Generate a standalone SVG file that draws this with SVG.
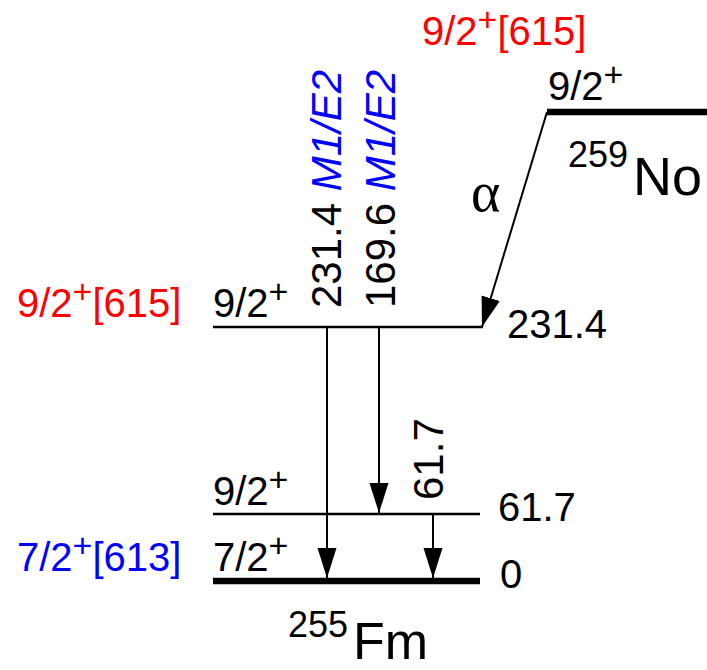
<svg xmlns="http://www.w3.org/2000/svg" width="707" height="670" viewBox="0 0 707 670">
<defs>
<marker id="ah" markerUnits="userSpaceOnUse" markerWidth="30" markerHeight="20" refX="30" refY="9.5" orient="auto" viewBox="0 0 30 19">
<path d="M0,0 L30,9.5 L0,19 z" fill="#000"/>
</marker>
</defs>
<style>
text{font-family:"Liberation Sans",Arial,sans-serif;font-size:40px;fill:#000}
.red{fill:#ff0000}
.blue{fill:#0000ff}
.it{font-style:italic;fill:#0000ff}
.sup{font-size:34px}
.vert{font-size:42px}
.thin{stroke:#000;stroke-width:2.5;fill:none}
.thick{stroke:#000;stroke-width:6.5;fill:none}
.arr{stroke:#000;stroke-width:2;fill:none;marker-end:url(#ah)}
</style>
<rect width="707" height="670" fill="#fff"/>
<g id="parent">
<line class="thick" x1="547" y1="112" x2="707" y2="112"/>
<text x="548" y="100">9/2<tspan class="sup" dy="-14">+</tspan></text>
<text class="red" x="422" y="45">9/2<tspan class="sup" dy="-14">+</tspan><tspan dy="14">[615]</tspan></text>
<text x="568" y="167" style="font-size:36px">259</text>
<text x="633" y="195" style="font-size:54px">No</text>
</g>
<g id="level231">
<line class="thin" x1="213" y1="327" x2="483" y2="327"/>
<text class="red" x="17" y="317">9/2<tspan class="sup" dy="-14">+</tspan><tspan dy="14">[615]</tspan></text>
<text x="213" y="317">9/2<tspan class="sup" dy="-14">+</tspan></text>
<text x="507" y="338">231.4</text>
</g>
<g id="level61">
<line class="thin" x1="213" y1="514" x2="480" y2="514"/>
<text x="213" y="505">9/2<tspan class="sup" dy="-14">+</tspan></text>
<text x="498" y="521">61.7</text>
</g>
<g id="level0">
<line class="thick" x1="213" y1="581" x2="480" y2="581"/>
<text class="blue" x="17" y="571">7/2<tspan class="sup" dy="-14">+</tspan><tspan dy="14">[613]</tspan></text>
<text x="213" y="571">7/2<tspan class="sup" dy="-14">+</tspan></text>
<text x="500" y="588">0</text>
<text x="288" y="637" style="font-size:36px">255</text>
<text x="353" y="659" style="font-size:52px">Fm</text>
</g>
<g id="connectors">
<line class="arr" x1="547" y1="112" x2="482" y2="327"/>
<text x="471" y="211" style="font-family:'Liberation Serif',serif;font-size:56px">α</text>
<line class="arr" x1="327" y1="327" x2="327" y2="578"/>
<text class="vert" transform="translate(341,308) rotate(-90)">231.4 <tspan class="it">M1/E2</tspan></text>
<line class="arr" x1="379" y1="327" x2="379" y2="513"/>
<text class="vert" transform="translate(395,308) rotate(-90)">169.6 <tspan class="it">M1/E2</tspan></text>
<line class="arr" x1="433" y1="514" x2="433" y2="578"/>
<text class="vert" transform="translate(443,500) rotate(-90)">61.7</text>
</g>
</svg>
